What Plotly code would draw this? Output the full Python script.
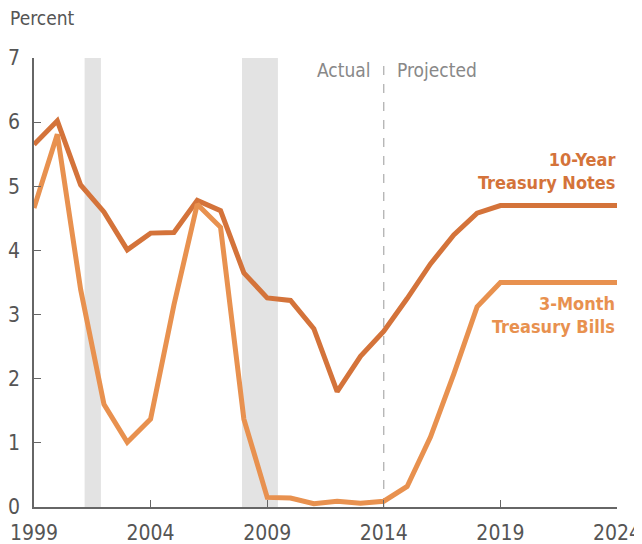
import plotly.graph_objects as go

years = list(range(1999, 2025))
notes_10y = [5.65, 6.02, 5.02, 4.60, 4.01, 4.27, 4.28, 4.78, 4.62, 3.65, 3.26, 3.22, 2.78, 1.80, 2.35, 2.74,
             3.25, 3.79, 4.24, 4.58, 4.70, 4.70, 4.70, 4.70, 4.70, 4.70]
bills_3m = [4.66, 5.81, 3.39, 1.60, 1.01, 1.37, 3.15, 4.72, 4.36, 1.37, 0.15, 0.14, 0.05, 0.09, 0.06, 0.09,
            0.32, 1.09, 2.07, 3.12, 3.50, 3.50, 3.50, 3.50, 3.50, 3.50]
recessions = [(2001.17, 2001.87), (2007.92, 2009.46)]
tick_years = [1999, 2004, 2009, 2014, 2019, 2024]
y_ticks = [0, 1, 2, 3, 4, 5, 6, 7]

C10 = "#D4733A"
C3 = "#E8914F"
FONT = "DejaVu Sans Condensed, Liberation Sans Narrow, sans-serif"

# page body has an 8px margin, so the figure is drawn 8px in from the top-left corner
W, H = 634, 536
ML, MR, MT, MB = 26, 25, 50, 37
PW, PH = W - ML - MR, H - MT - MB

fig = go.Figure()
for a, b in recessions:
    fig.add_shape(type="rect", x0=a, x1=b, y0=0, y1=7, xref="x", yref="y",
                  fillcolor="#E3E3E3", line_width=0, layer="below")
fig.add_shape(type="line", x0=2014, x1=2014, y0=0, y1=7, xref="x", yref="y",
              line=dict(color="#999999", width=1, dash="dash"), layer="below")

fig.add_trace(go.Scatter(x=years, y=notes_10y, mode="lines", line=dict(color=C10, width=5),
                         name="10-Year Treasury Notes", hoverinfo="skip"))
fig.add_trace(go.Scatter(x=years, y=bills_3m, mode="lines", line=dict(color=C3, width=5),
                         name="3-Month Treasury Bills", hoverinfo="skip"))

fig.add_annotation(x=2024, y=5.24, xref="x", yref="y", text="<b>10-Year<br>Treasury Notes</b>",
                   showarrow=False, xanchor="right", yanchor="middle", align="right",
                   font=dict(family=FONT, size=18, color=C10))
fig.add_annotation(x=2024, y=3.0, xref="x", yref="y", text="<b>3-Month<br>Treasury Bills</b>",
                   showarrow=False, xanchor="right", yanchor="middle", align="right",
                   font=dict(family=FONT, size=18, color=C3))
fig.add_annotation(x=2013.55, y=6.82, xref="x", yref="y", text="Actual", showarrow=False,
                   xanchor="right", yanchor="middle", font=dict(family=FONT, size=19, color="#888888"))
fig.add_annotation(x=2014.5, y=6.82, xref="x", yref="y", text="Projected", showarrow=False,
                   xanchor="left", yanchor="middle", font=dict(family=FONT, size=19, color="#888888"))
fig.add_annotation(x=(0 - ML) / PW, y=(PH + MT - 10) / PH, xref="paper", yref="paper", text="Percent",
                   showarrow=False, xanchor="left", yanchor="middle",
                   font=dict(family=FONT, size=19, color="#555555"))

fig.update_layout(
    width=W, height=H,
    margin=dict(l=ML, r=MR, t=MT, b=MB),
    plot_bgcolor="white", paper_bgcolor="white",
    showlegend=False,
    font=dict(family=FONT, size=19, color="#555555"),
    xaxis=dict(range=[1999, 2024], tickvals=tick_years, ticktext=[str(t) for t in tick_years],
               ticks="inside", ticklen=7, tickcolor="#666666", showline=True, linecolor="#666666",
               linewidth=1.5, showgrid=False, zeroline=False, ticklabelstandoff=6, automargin=False,
               tickfont=dict(size=21)),
    yaxis=dict(range=[0, 7], tickvals=y_ticks, ticks="inside", ticklen=7, tickcolor="#666666",
               showline=True, linecolor="#666666", linewidth=1.5, showgrid=False, zeroline=False,
               ticklabelstandoff=8, automargin=False, tickfont=dict(size=21)),
)
fig.write_html("out.html")
